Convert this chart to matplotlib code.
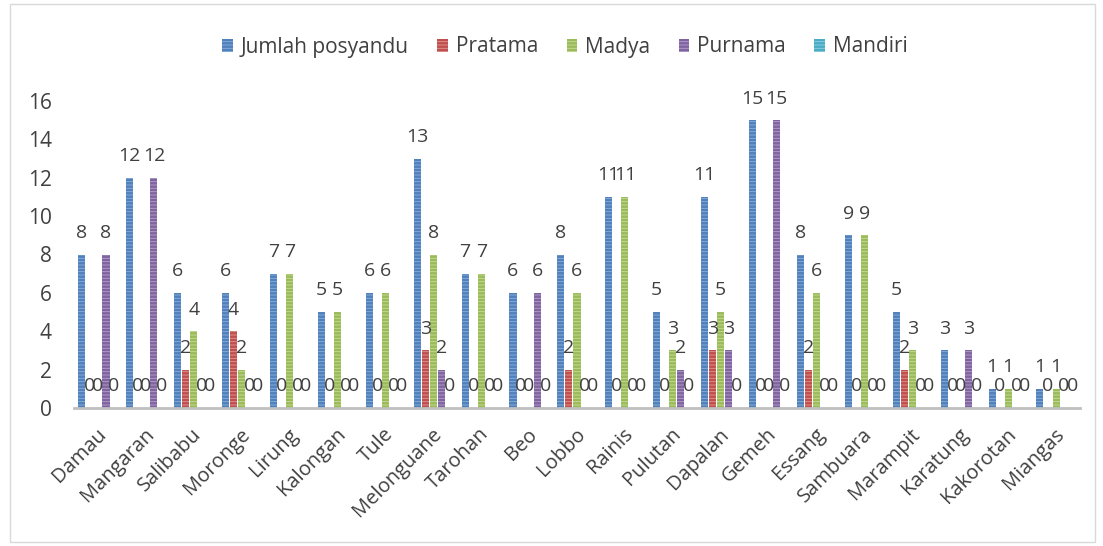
import numpy as np
import matplotlib
matplotlib.use('Agg')
import matplotlib.pyplot as plt
from matplotlib.patches import Rectangle
from matplotlib.transforms import ScaledTranslation

plt.rcParams['font.family'] = ['Open Sans', 'DejaVu Sans']
plt.rcParams['hatch.linewidth'] = 0.6

desa = ['Damau', 'Mangaran', 'Salibabu', 'Moronge', 'Lirung', 'Kalongan', 'Tule',
        'Melonguane', 'Tarohan', 'Beo', 'Lobbo', 'Rainis', 'Pulutan', 'Dapalan',
        'Gemeh', 'Essang', 'Sambuara', 'Marampit', 'Karatung', 'Kakorotan', 'Miangas']
jumlah = [8, 12, 6, 6, 7, 5, 6, 13, 7, 6, 8, 11, 5, 11, 15, 8, 9, 5, 3, 1, 1]
pratama = [0, 0, 2, 4, 0, 0, 0, 3, 0, 0, 2, 0, 0, 3, 0, 2, 0, 2, 0, 0, 0]
madya = [0, 0, 4, 2, 7, 5, 6, 8, 7, 0, 6, 11, 3, 5, 0, 6, 9, 3, 0, 1, 1]
purnama = [8, 12, 0, 0, 0, 0, 0, 2, 0, 6, 0, 0, 2, 3, 15, 0, 0, 0, 3, 0, 0]
mandiri = [0] * 21

series = [('Jumlah posyandu', jumlah, '#4f81bd', '#8fb0d9'),
          ('Pratama', pratama, '#c0504d', '#e09896'),
          ('Madya', madya, '#9bbb59', '#c8dc9c'),
          ('Purnama', purnama, '#8064a2', '#b4a2c9'),
          ('Mandiri', mandiri, '#4bacc6', '#93d0e0')]

fig = plt.figure(figsize=(11.03, 5.46), dpi=100)
ax = fig.add_axes([74 / 1103, 1 - 408 / 546, (1080 - 74) / 1103, (408 - 101) / 546])

x = np.arange(len(desa))
step = 0.168
w = 0.148
for i, (name, vals, col, hcol) in enumerate(series):
    pos = x + (i - 2) * step
    ax.bar(pos, vals, width=w, color=col, edgecolor=hcol, linewidth=0,
           hatch='-----', label=name)
    for xp, v in zip(pos, vals):
        ax.annotate(str(v), (xp, v), xytext=(0, 12), textcoords='offset points',
                    ha='center', va='baseline', fontsize=14, color='#404040')

ax.set_xlim(-0.5, len(desa) - 0.5)
ax.set_ylim(0, 16)
ax.set_yticks(range(0, 17, 2))
ax.set_xticks(x)
ax.set_xticklabels(desa, rotation=45, ha='right', rotation_mode='anchor')
ax.tick_params(axis='both', length=0, colors='#404040')
ax.tick_params(axis='x', pad=6, labelsize=14.5)
ax.tick_params(axis='y', pad=16, labelsize=15)
shift = ScaledTranslation(-2 / 100, -8 / 100, fig.dpi_scale_trans)
for lbl in ax.get_xticklabels():
    lbl.set_transform(lbl.get_transform() + shift)
for s in ['top', 'right', 'left']:
    ax.spines[s].set_visible(False)
ax.spines['bottom'].set_color('#bfbfbf')
ax.spines['bottom'].set_linewidth(2)

fig.legend(loc='center', bbox_to_anchor=(565 / 1103, 1 - 47 / 546), ncol=5,
           frameon=False, fontsize=15, handlelength=0.5, handleheight=0.6,
           handletextpad=0.4, columnspacing=1.35, labelcolor='#404040')

fig.patches.append(Rectangle((10 / 1103, 4 / 546), 1085 / 1103, 538 / 546,
                             transform=fig.transFigure, fill=False,
                             edgecolor='#d9d9d9', linewidth=1))

fig.savefig('out.png', dpi=100)
